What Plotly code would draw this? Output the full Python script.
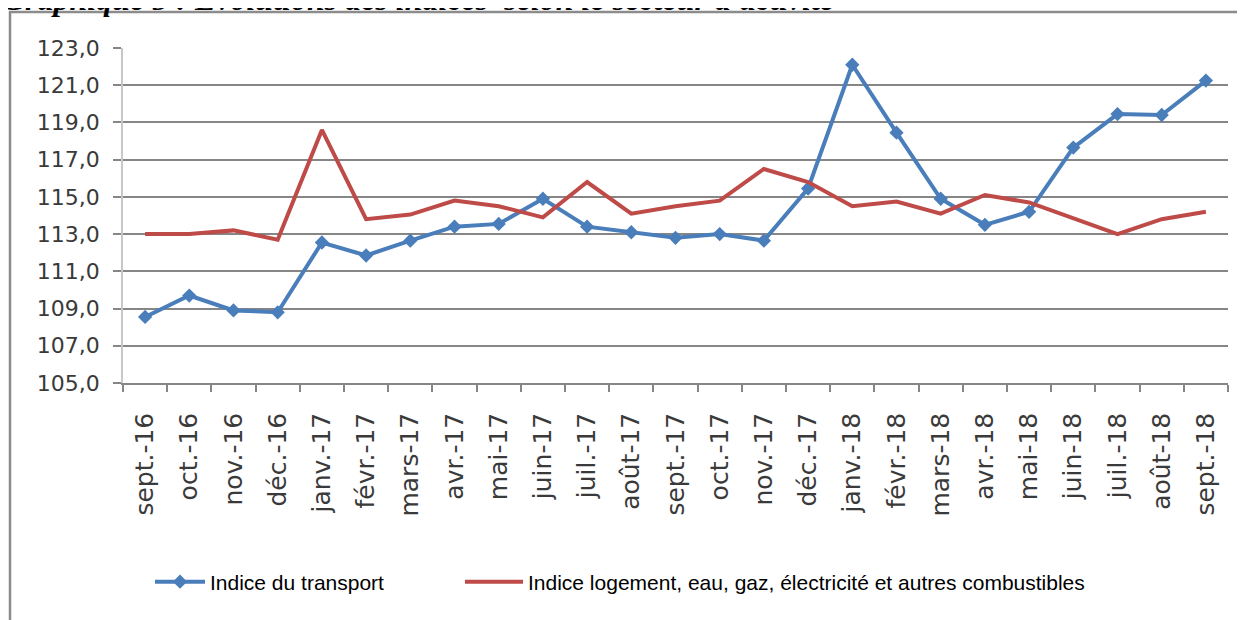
import plotly.graph_objects as go

months = ["sept.-16", "oct.-16", "nov.-16", "déc.-16", "janv.-17", "févr.-17", "mars-17",
          "avr.-17", "mai-17", "juin-17", "juil.-17", "août-17", "sept.-17", "oct.-17",
          "nov.-17", "déc.-17", "janv.-18", "févr.-18", "mars-18", "avr.-18", "mai-18",
          "juin-18", "juil.-18", "août-18", "sept.-18"]

transport = [108.55, 109.7, 108.9, 108.8, 112.55, 111.85, 112.65, 113.4, 113.55, 114.9,
             113.4, 113.1, 112.8, 113.0, 112.65, 115.45, 122.1, 118.45, 114.9, 113.5,
             114.2, 117.65, 119.45, 119.4, 121.25]

logement = [113.0, 113.0, 113.2, 112.7, 118.6, 113.8, 114.05, 114.8, 114.5, 113.9,
            115.8, 114.1, 114.5, 114.8, 116.5, 115.8, 114.5, 114.75, 114.1, 115.1,
            114.7, 113.85, 113.0, 113.8, 114.2]

name_transport = "Indice du transport"
name_logement = "Indice logement, eau, gaz, électricité et autres combustibles"
title_text = "Graphique 5 : Evolutions des indices  selon le secteur d'activité"

# page offset caused by the default 8px body margin
OFF = 8
W, H = 1245 - OFF, 620 - OFF
PLOT_L, PLOT_R, PLOT_T, PLOT_B = 123, 1228, 48, 383   # page pixels
ML = PLOT_L - OFF
MR = 1245 - PLOT_R
MT = PLOT_T - OFF
MB = 620 - PLOT_B
PW, PH = PLOT_R - PLOT_L, PLOT_B - PLOT_T


def px_x(px):
    return (px - PLOT_L) / PW


def px_y(py):
    return (PLOT_B - py) / PH


fig = go.Figure()
fig.add_trace(go.Scatter(
    x=months, y=transport, name=name_transport, mode="lines+markers",
    line=dict(color="#4a7ebb", width=4),
    marker=dict(symbol="diamond", size=11, color="#4a7ebb"),
    legend="legend",
))
fig.add_trace(go.Scatter(
    x=months, y=logement, name=name_logement, mode="lines",
    line=dict(color="#be4b48", width=4),
    legend="legend2",
))

legend_font = dict(family="Liberation Sans", size=21, color="#000000")

fig.update_layout(
    width=W, height=H,
    margin=dict(l=ML, r=MR, t=MT, b=MB, pad=0),
    paper_bgcolor="white", plot_bgcolor="white",
    separators=", ",
    showlegend=True,
    legend=dict(
        orientation="h", x=px_x(150), y=px_y(582), xanchor="left", yanchor="middle",
        font=legend_font, bgcolor="rgba(0,0,0,0)", itemwidth=50,
    ),
    legend2=dict(
        orientation="h", x=px_x(460), y=px_y(582), xanchor="left", yanchor="middle",
        font=legend_font, bgcolor="rgba(0,0,0,0)", itemwidth=58,
    ),
    xaxis=dict(
        type="category", tickangle=-90, showgrid=False,
        showline=True, linecolor="#868686", linewidth=1.5,
        ticks="outside", ticklen=7, tickcolor="#868686", tickwidth=1.5,
        tickson="boundaries", ticklabelstandoff=18,
        tickfont=dict(family="DejaVu Sans", size=25, color="#3a3a3a"),
        range=[-0.5, len(months) - 0.5],
    ),
    yaxis=dict(
        range=[105, 123], tickmode="linear", tick0=105, dtick=2, tickformat=".1f",
        showgrid=True, gridcolor="#868686", gridwidth=1.5,
        showline=True, linecolor="#c8c8c8", linewidth=1.5,
        ticks="outside", ticklen=8, tickcolor="#868686", tickwidth=1.5,
        ticklabelstandoff=9,
        tickfont=dict(family="DejaVu Sans", size=22, color="#3a3a3a"),
        zeroline=False,
    ),
    shapes=[dict(
        type="rect", xref="paper", yref="paper",
        x0=px_x(10), x1=px_x(1300), y0=px_y(700), y1=px_y(12),
        line=dict(color="#8c8c8c", width=2.5), fillcolor="rgba(0,0,0,0)", layer="below",
    )],
    annotations=[dict(
        text="<b><i>" + title_text + "</i></b>", xref="paper", yref="paper",
        x=px_x(0), y=px_y(-1), xanchor="left", yanchor="middle", showarrow=False,
        font=dict(family="Liberation Serif", size=32, color="#000000"),
    )],
)

fig.write_html("out.html")
